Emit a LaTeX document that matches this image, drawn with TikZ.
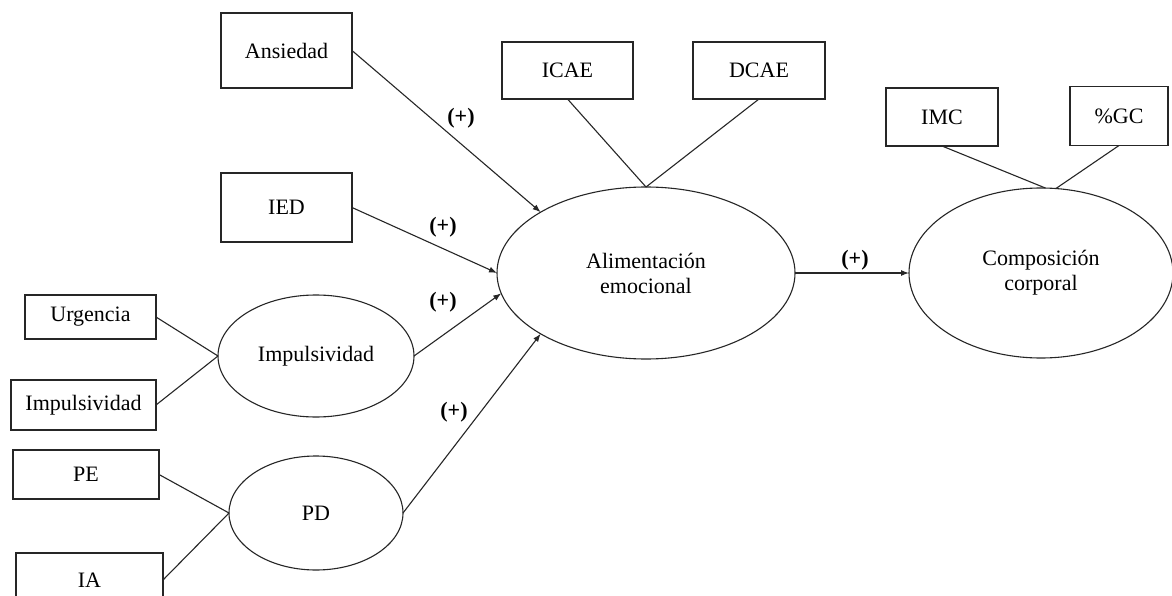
\documentclass[tikz,border=0pt]{standalone}
\usepackage{fontspec}
\setmainfont{Liberation Serif}
\usetikzlibrary{shapes.geometric,arrows.meta}
\begin{document}
\begin{tikzpicture}[x=1pt,y=-1pt,
  font=\fontsize{22}{25}\selectfont,
  every node/.style={inner sep=0pt, outer sep=0pt, text=black},
  indicator/.style={draw=black!85, line width=1.1pt, rectangle},
  latent/.style={draw=black!85, line width=1.1pt, ellipse, align=center},
  link/.style={draw=black!85, line width=1.1pt},
  effect/.style={link, -{Latex[length=8pt,width=6pt]}},
  sign/.style={font=\fontsize{22}{25}\selectfont\bfseries}]
\clip (0,0) rectangle (1172,596);
\fill[white] (0,0) rectangle (1172,596);

% latent constructs
\node[latent, minimum width=298pt, minimum height=172pt] (ali) at (646,273) {Alimentación\\emocional};
\node[latent, minimum width=264pt, minimum height=170pt] (comp) at (1041,273) {Composición\\corporal};
\node[latent, minimum width=196pt, minimum height=122pt] (impl) at (316,356) {Impulsividad};
\node[latent, minimum width=174pt, minimum height=114pt] (pd) at (316,513) {PD};

% observed indicators
\node[indicator, minimum width=131pt, minimum height=75pt] (ans) at (286.5,50.5) {Ansiedad};
\node[indicator, minimum width=131pt, minimum height=69pt] (ied) at (286.5,207.5) {IED};
\node[indicator, minimum width=131pt, minimum height=57pt] (icae) at (567.5,70.5) {ICAE};
\node[indicator, minimum width=132pt, minimum height=57pt] (dcae) at (759,70.5) {DCAE};
\node[indicator, minimum width=112pt, minimum height=58pt] (imc) at (942,117) {IMC};
\node[indicator, minimum width=98pt, minimum height=59pt] (gc) at (1119,116) {\%GC};
\node[indicator, minimum width=131pt, minimum height=44pt] (urg) at (90.5,317) {Urgencia};
\node[indicator, minimum width=145pt, minimum height=50pt] (impb) at (83.5,405) {Impulsividad};
\node[indicator, minimum width=146pt, minimum height=49pt] (pe) at (86,474.5) {PE};
\node[indicator, minimum width=147pt, minimum height=54pt] (ia) at (89.5,580) {IA};

% measurement links
\draw[link] (icae.south) -- (ali.north);
\draw[link] (dcae.south) -- (ali.north);
\draw[link] (imc.south) -- (comp.87);
\draw[link] (gc.south) -- (comp.80);
\draw[link] (urg.east) -- (impl.west);
\draw[link] (impb.east) -- (impl.west);
\draw[link] (pe.east) -- (pd.west);
\draw[link] (ia.east) -- (pd.west);

% structural paths
\draw[effect] (ans.east) -- (ali.150.5);
\draw[effect] (ied.east) -- (ali.west);
\draw[effect] (impl.east) -- (ali.188);
\draw[effect] (pd.east) -- (ali.210.7);
\draw[effect] (ali.east) -- (comp.west);

% path signs
\node[sign] (s1) at (461,118) {(+)};
\node[sign] (s2) at (443,227) {(+)};
\node[sign] (s3) at (443,302) {(+)};
\node[sign] (s4) at (454,412) {(+)};
\node[sign] (s5) at (855,260) {(+)};
\end{tikzpicture}
\end{document}
